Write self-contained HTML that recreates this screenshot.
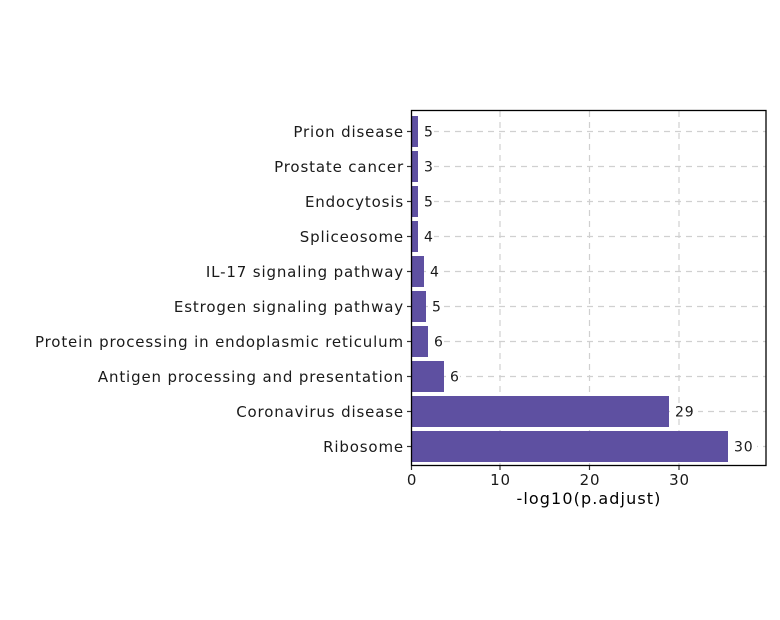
<!DOCTYPE html>
<html><head><meta charset="utf-8"><style>
html,body{margin:0;padding:0;background:#fff;}
svg{display:block;font-family:"DejaVu Sans","Liberation Sans",sans-serif;}
</style></head><body>
<svg width="780" height="620" viewBox="0 0 780 620" xmlns="http://www.w3.org/2000/svg">
<rect width="780" height="620" fill="#fff"/>
<g stroke="#d0d0d0" stroke-width="1.2" stroke-dasharray="6,5">
<line x1="500" y1="111" x2="500" y2="465"/>
<line x1="589.5" y1="111" x2="589.5" y2="465"/>
<line x1="679" y1="111" x2="679" y2="465"/>
<line x1="411" y1="131.5" x2="766" y2="131.5"/>
<line x1="411" y1="166.5" x2="766" y2="166.5"/>
<line x1="411" y1="201.5" x2="766" y2="201.5"/>
<line x1="411" y1="236.5" x2="766" y2="236.5"/>
<line x1="411" y1="271.5" x2="766" y2="271.5"/>
<line x1="411" y1="306.5" x2="766" y2="306.5"/>
<line x1="411" y1="341.5" x2="766" y2="341.5"/>
<line x1="411" y1="376.5" x2="766" y2="376.5"/>
<line x1="411" y1="411.5" x2="766" y2="411.5"/>
<line x1="411" y1="446.5" x2="766" y2="446.5"/>
</g>
<g fill="#5e50a1">
<rect x="411.5" y="116" width="6.5" height="31"/>
<rect x="411.5" y="151" width="6.5" height="31"/>
<rect x="411.5" y="186" width="6.5" height="31"/>
<rect x="411.5" y="221" width="6.5" height="31"/>
<rect x="411.5" y="256" width="12.5" height="31"/>
<rect x="411.5" y="291" width="14.5" height="31"/>
<rect x="411.5" y="326" width="16.5" height="31"/>
<rect x="411.5" y="361" width="32.5" height="31"/>
<rect x="411.5" y="396" width="257.5" height="31"/>
<rect x="411.5" y="431" width="316.5" height="31"/>
</g>
<g font-size="14" fill="#1a1a1a" letter-spacing="0.8">
<rect x="420" y="123" width="14" height="16" fill="#fff"/><text x="424" y="136.5">5</text>
<rect x="420" y="158" width="14" height="16" fill="#fff"/><text x="424" y="171.5">3</text>
<rect x="420" y="193" width="14" height="16" fill="#fff"/><text x="424" y="206.5">5</text>
<rect x="420" y="228" width="14" height="16" fill="#fff"/><text x="424" y="241.5">4</text>
<rect x="426" y="263" width="14" height="16" fill="#fff"/><text x="430" y="276.5">4</text>
<rect x="428" y="298" width="14" height="16" fill="#fff"/><text x="432" y="311.5">5</text>
<rect x="430" y="333" width="14" height="16" fill="#fff"/><text x="434" y="346.5">6</text>
<rect x="446" y="368" width="14" height="16" fill="#fff"/><text x="450" y="381.5">6</text>
<rect x="671" y="403" width="27" height="16" fill="#fff"/><text x="675" y="416.5">29</text>
<rect x="730" y="438" width="27" height="16" fill="#fff"/><text x="734" y="451.5">30</text>
</g>
<rect x="411.5" y="110.5" width="354.5" height="355" fill="none" stroke="#000" stroke-width="1.3"/>
<g stroke="#333" stroke-width="1.2">
<line x1="407" y1="131.5" x2="411" y2="131.5"/><line x1="407" y1="166.5" x2="411" y2="166.5"/>
<line x1="407" y1="201.5" x2="411" y2="201.5"/><line x1="407" y1="236.5" x2="411" y2="236.5"/>
<line x1="407" y1="271.5" x2="411" y2="271.5"/><line x1="407" y1="306.5" x2="411" y2="306.5"/>
<line x1="407" y1="341.5" x2="411" y2="341.5"/><line x1="407" y1="376.5" x2="411" y2="376.5"/>
<line x1="407" y1="411.5" x2="411" y2="411.5"/><line x1="407" y1="446.5" x2="411" y2="446.5"/>
<line x1="411.5" y1="466" x2="411.5" y2="470"/><line x1="500" y1="466" x2="500" y2="470"/>
<line x1="589.5" y1="466" x2="589.5" y2="470"/><line x1="679" y1="466" x2="679" y2="470"/>
</g>
<g font-size="15" fill="#1a1a1a" text-anchor="end" letter-spacing="0.85">
<text x="404" y="137">Prion disease</text>
<text x="404" y="172">Prostate cancer</text>
<text x="404" y="207">Endocytosis</text>
<text x="404" y="242">Spliceosome</text>
<text x="404" y="277">IL-17 signaling pathway</text>
<text x="404" y="312">Estrogen signaling pathway</text>
<text x="404" y="347">Protein processing in endoplasmic reticulum</text>
<text x="404" y="382">Antigen processing and presentation</text>
<text x="404" y="417">Coronavirus disease</text>
<text x="404" y="452">Ribosome</text>
</g>
<g font-size="15" fill="#1a1a1a" text-anchor="middle" letter-spacing="0.8">
<text x="412" y="485">0</text>
<text x="500.5" y="485">10</text>
<text x="590" y="485">20</text>
<text x="679.5" y="485">30</text>
<text x="589" y="504" font-size="16" fill="#000" letter-spacing="1.1">-log10(p.adjust)</text>
</g>
</svg>
</body></html>
